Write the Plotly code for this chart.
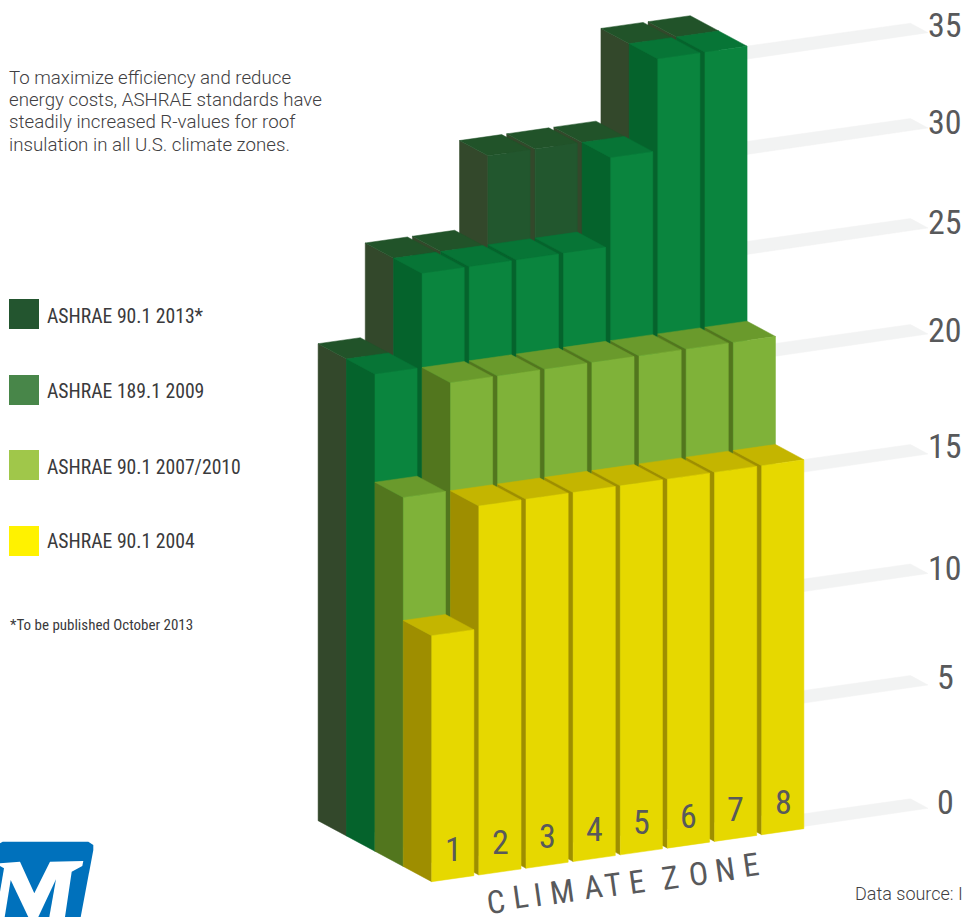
import plotly.graph_objects as go

ZONES = ["1", "2", "3", "4", "5", "6", "7", "8"]
R_2004 = [10, 15, 15, 15, 15, 15, 15, 15]
R_2007 = [15, 20, 20, 20, 20, 20, 20, 20]
R_189 = [20, 25, 25, 25, 25, 30, 35, 35]
R_2013 = [20, 25, 25, 30, 30, 30, 35, 35]
SERIES_NAMES = ["ASHRAE 90.1 2013*", "ASHRAE 189.1 2009", "ASHRAE 90.1 2007/2010", "ASHRAE 90.1 2004"]
TICKS = [0, 5, 10, 15, 20, 25, 30, 35]

# hand-drawn pseudo-3D scale of the original: rise in pixels per value
BAR_RISE = [0, 123, 246, 369, 477, 571, 660, 752]
TICK_TIP_Y = [808.3, 685, 573.5, 454, 334, 228, 128, 32.7]
TICK_LABEL_Y = [802, 677, 568, 446, 330, 222, 122, 25]

X0, Y0 = 431.7, 881.7
ZONE_DX, BAR_W, SLOPE = 47.14, 42.2, 0.1424
DEPTH_DX, DEPTH_DY = 28.4, 15.25

FONT_N = "Roboto Condensed"
FONT_S = "Roboto Light"
GREY = "#58595b"


def rise(v):
    for i in range(len(TICKS) - 1):
        if TICKS[i] <= v <= TICKS[i + 1]:
            t = (v - TICKS[i]) / (TICKS[i + 1] - TICKS[i])
            return BAR_RISE[i] + t * (BAR_RISE[i + 1] - BAR_RISE[i])
    return BAR_RISE[-1]


def pt(zone, layer, along, v):
    """Oblique projection: zone index, depth layer, fraction of bar width, value."""
    x = X0 + zone * ZONE_DX - layer * DEPTH_DX + along * BAR_W
    y = Y0 - (zone * ZONE_DX + along * BAR_W) * SLOPE - layer * DEPTH_DY - rise(v)
    return x, y


def poly(fig, pts, color):
    xs, ys = zip(*pts)
    fig.add_trace(go.Scatter(x=list(xs) + [xs[0]], y=list(ys) + [ys[0]], mode="lines", fill="toself",
                             fillcolor=color, line=dict(color=color, width=0.5),
                             hoverinfo="skip", showlegend=False))


fig = go.Figure()

LAYERS = [(3, R_2013, "#22572e", "#215329", "#33482b"),
          (2, R_189, "#0a853e", "#077536", "#05632c"),
          (1, R_2007, "#7fb239", "#6a9a2c", "#52761e"),
          (0, R_2004, "#e6d800", "#c4b500", "#9e8e00")]

# tick planes behind the bars
for i, t in enumerate(TICKS):
    front = next(l for l in (0, 1, 2, 3) if {0: R_2004, 1: R_2007, 2: R_189, 3: R_2013}[l][7] >= t)
    xs = X0 + 7 * ZONE_DX - front * DEPTH_DX + BAR_W
    yt = TICK_TIP_Y[i]
    poly(fig, [(xs, yt - 9.5 + 0.14 * (910.5 - xs)), (910.5, yt - 9.5), (928, yt), (xs, yt + 0.146 * (928 - xs))], "#f2f3f3")

# bars, back layer first, right to left
for layer, vals, c_front, c_top, c_side in LAYERS:
    for z in range(7, -1, -1):
        v = vals[z]
        a0, a1 = pt(z, layer, 0, 0), pt(z, layer, 0, v)
        b0, b1 = pt(z, layer + 1, 0, 0), pt(z, layer + 1, 0, v)
        c1, c0 = pt(z, layer, 1, v), pt(z, layer, 1, 0)
        d1 = pt(z, layer + 1, 1, v)
        poly(fig, [b0, b1, a1, a0], c_side)
        poly(fig, [b1, d1, c1, a1], c_top)
        poly(fig, [a0, a1, c1, c0], c_front)

ann = []


def text(x, y, s, size, color=GREY, font=FONT_N, anchor="center", angle=0):
    ann.append(dict(x=x, y=y, text=s, showarrow=False, xref="x", yref="y", xanchor=anchor, yanchor="middle",
                    textangle=angle, font=dict(family=font, size=size, color=color)))


for i, t in enumerate(TICKS):
    text(945, TICK_LABEL_Y[i], str(t), 34)

for z, label in enumerate(ZONES):
    x, y = pt(z, 0, 0.5, 0)
    text(x + 0.3, y - 29.5, label, 34)

TITLE_LETTERS = list("CLIMATE") + list("ZONE")
TITLE_X = [496, 520, 538, 562, 593, 613, 637, 670, 698, 725, 751]
TITLE_Y = [902, 897, 895, 892, 887, 885, 882, 878, 874, 870, 865]
for s, x, y in zip(TITLE_LETTERS, TITLE_X, TITLE_Y):
    text(x, y, s, 32, angle=-8)

PARA = ["To maximize efficiency and reduce", "energy costs, ASHRAE standards have",
        "steadily increased R-values for roof", "insulation in all U.S. climate zones."]
for s, y in zip(PARA, [78, 100, 122, 145]):
    text(7, y, s, 18.7, color="#414042", font=FONT_S, anchor="left")

LEG_COL = ["#23552f", "#488649", "#a0c74a", "#fff200"]
LEG_BOX = [299, 375, 450, 526]
LEG_TXT = [316, 391, 467, 541]
shapes = []
for n, c, b, ty in zip(SERIES_NAMES, LEG_COL, LEG_BOX, LEG_TXT):
    shapes.append(dict(type="rect", x0=9, x1=39, y0=b, y1=b + 30, fillcolor=c, line=dict(width=0), xref="x", yref="y"))
    text(45, ty, n, 19.7, color="#3a3a3c", anchor="left")
text(8, 625, "*To be published October 2013", 15, color="#3a3a3c", anchor="left")
text(853, 893, "Data source: I", 18, color="#414042", font=FONT_S, anchor="left")


def lg(pts):
    return "M" + " L".join(f"{x/3:.1f},{830+y/3:.1f}" for x, y in pts) + " Z"


shapes.append(dict(type="path", xref="x", yref="y", fillcolor="#0071bc", line=dict(width=0),
                   path=lg([(0, 40), (8, 35), (265, 35), (280, 45), (280, 60), (242, 261), (0, 261)])))
shapes.append(dict(type="path", xref="x", yref="y", fillcolor="#ffffff", line=dict(width=0),
                   path=lg([(0, 100), (60, 95), (103, 190), (150, 95), (250, 93), (247, 108), (215, 125), (195, 261), (0, 261)])))
for hole in ([(168, 148), (148, 261), (115, 261)], [(32, 150), (85, 261), (14, 261)], [(0, 108), (12, 115), (0, 185)]):
    shapes.append(dict(type="path", xref="x", yref="y", fillcolor="#0071bc", line=dict(width=0), path=lg(hole)))

fig.update_layout(width=964, height=917, margin=dict(l=0, r=0, t=0, b=0), paper_bgcolor="white", plot_bgcolor="white",
                  xaxis=dict(range=[0, 964], visible=False, fixedrange=True),
                  yaxis=dict(range=[917, 0], visible=False, fixedrange=True),
                  annotations=ann, shapes=shapes, showlegend=False, hovermode=False)
fig.write_html("out.html", post_script="document.body.style.margin='0';", config={"displayModeBar": False})
